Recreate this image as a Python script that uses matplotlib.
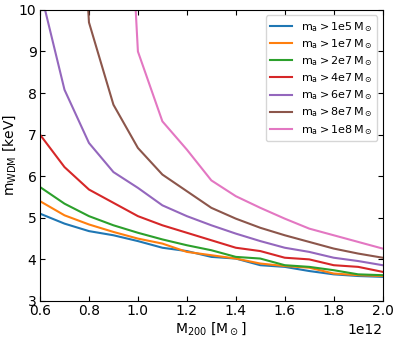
import numpy as np
import matplotlib
matplotlib.use("Agg")
import matplotlib.pyplot as plt

# halo mass grid, units of 1e12 Msun
m200 = np.array([0.6, 0.7, 0.8, 0.9, 1.0, 1.1, 1.2, 1.3, 1.4, 1.5, 1.6, 1.7, 1.8, 1.9, 2.0]) * 1e12

# WDM mass limits [keV] for each subhalo mass threshold
m_1e5 = [5.10, 4.86, 4.68, 4.58, 4.44, 4.28, 4.20, 4.06, 4.02, 3.86, 3.82, 3.72, 3.64, 3.60, 3.58]
m_1e7 = [5.40, 5.06, 4.84, 4.66, 4.50, 4.38, 4.18, 4.10, 4.02, 3.90, 3.84, 3.80, 3.66, 3.62, 3.60]
m_2e7 = [5.74, 5.34, 5.04, 4.82, 4.64, 4.48, 4.34, 4.22, 4.06, 4.02, 3.86, 3.82, 3.74, 3.64, 3.62]
m_4e7 = [7.00, 6.22, 5.68, 5.36, 5.04, 4.82, 4.64, 4.46, 4.28, 4.20, 4.04, 4.00, 3.86, 3.82, 3.70]
m_6e7 = [10.5, 8.08, 6.80, 6.10, 5.72, 5.30, 5.04, 4.82, 4.62, 4.44, 4.28, 4.18, 4.04, 3.96, 3.86]
m_8e7 = [20.0, 20.0, 9.70, 7.72, 6.68, 6.04, 5.64, 5.24, 4.98, 4.76, 4.58, 4.42, 4.26, 4.14, 4.04]
m_1e8 = [20.0, 20.0, 20.0, 20.0, 9.00, 7.32, 6.64, 5.90, 5.52, 5.24, 4.98, 4.74, 4.58, 4.42, 4.26]

series = [m_1e5, m_1e7, m_2e7, m_4e7, m_6e7, m_8e7, m_1e8]
labels = ['1e5', '1e7', '2e7', '4e7', '6e7', '8e7', '1e8']

fig = plt.figure(figsize=(3.99, 3.42), dpi=100)
ax = fig.add_axes([0.1003, 0.12, 0.8587, 0.851])

for vals, lab in zip(series, labels):
    ax.plot(m200, vals, lw=1.5, label=r'$\mathrm{m_a > ' + lab + r'\,M_\odot}$')

ax.set_xlim(0.6e12, 2.0e12)
ax.set_ylim(3, 10)
ax.set_xlabel(r'$\mathrm{M_{200}\ [M_\odot]}$', fontsize=10, labelpad=1)
ax.set_ylabel(r'$\mathrm{m_{WDM}\ [keV]}$', fontsize=10, labelpad=1)
ax.tick_params(direction='in', top=True, right=True, labelsize=10, pad=2.5)
ax.legend(fontsize=8, loc='upper right', labelspacing=0.3)

fig.savefig('out.png', dpi=100)
